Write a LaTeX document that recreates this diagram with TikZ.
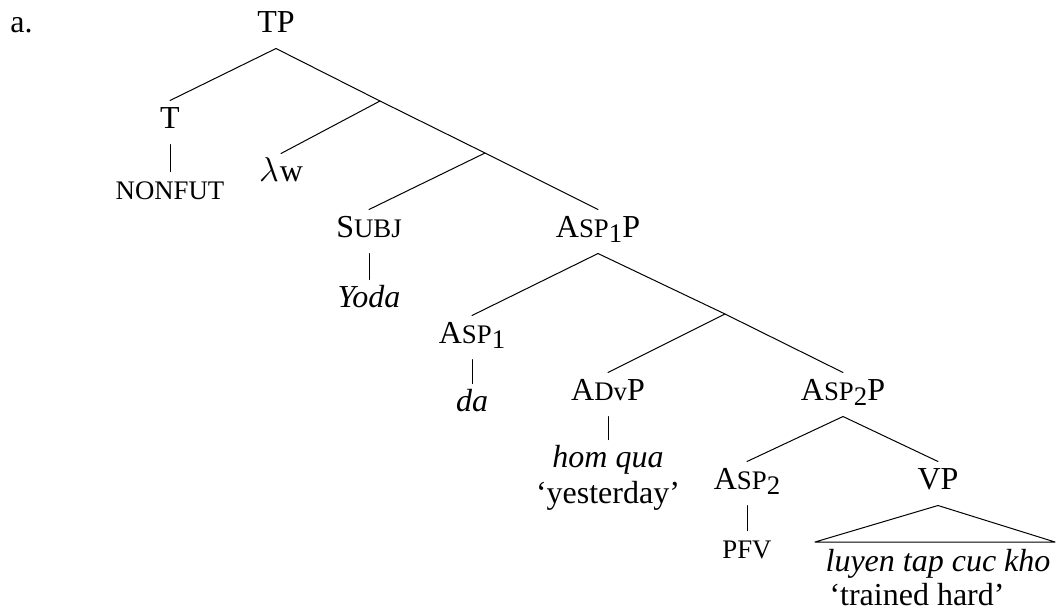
\documentclass[tikz,border=0pt]{standalone}
\usepackage{fontspec}
\setmainfont{Liberation Serif}
\newcommand\smc[1]{{\fontsize{13.4}{14}\selectfont #1}}
\newcommand\sub[1]{\raisebox{-2.5pt}{\smc{#1}}}
\begin{document}
\begin{tikzpicture}[x=.5pt,y=-.5pt, font=\fontsize{16}{19.2}\selectfont, line width=.5pt, line join=round, line cap=round,
	lab/.style={anchor=base, inner sep=0pt, text height=13.5pt, text depth=8pt}]
	\def\xmax{1057} \def\ymax{612} % khung
	\useasboundingbox (0,0) rectangle (\xmax,\ymax);
	\node[anchor=base west, inner sep=0pt] (ex) at (10,32) {a.};
	\node[lab] (tp) at (276,32) {TP};
	% các nút trung gian
	\coordinate (n1) at (380,101);
	\coordinate (n2) at (485,153);
	\coordinate (n3) at (725,314);
	\node[lab] (t) at (170,128) {T};
	\node[lab] (nonfut) at (170,199) {\smc{NONFUT}};
	\node[lab] (lw) at (281,181) {$\lambda$\kern.5pt w};
	\node[lab] (subj) at (369,237) {S\smc{UBJ}};
	\node[lab] (yoda) at (369,307) {\textit{Yoda}};
	\node[lab] (asp1p) at (598,237) {A\smc{SP}\sub{1}P};
	\node[lab] (asp1) at (472,343) {A\smc{SP}\sub{1}};
	\node[lab] (da) at (472,411) {\textit{da}};
	\node[lab] (advp) at (608,400) {A\smc{Dv}P};
	\node[lab] (homqua) at (608,467) {\textit{hom qua}};
	\node[lab] (gloss1) at (608,503) {`yesterday'};
	\node[lab] (asp2p) at (843,400) {A\smc{SP}\sub{2}P};
	\node[lab] (asp2) at (747,489) {A\smc{SP}\sub{2}};
	\node[lab] (pfv) at (747,558) {\smc{PFV}};
	\node[lab] (vp) at (938,489) {VP};
	\coordinate (trl) at (815,542);
	\coordinate (trr) at (1055,542);
	\node[lab] (luyen) at (938,571) {\textit{luyen tap cuc kho}};
	\node[anchor=base west, inner sep=0pt] (gloss2) at (829,605) {`trained hard'};
	% cạnh
	\draw (tp.south)--(t.north);
	\draw (tp.south)--(n1)--(lw.north);
	\draw (n1)--(n2)--(subj.north);
	\draw (n2)--(asp1p.north);
	\draw (t.south)--(nonfut.north);
	\draw (subj.south)--(yoda.north);
	\draw (asp1p.south)--(asp1.north);
	\draw (asp1p.south)--(n3)--(advp.north);
	\draw (n3)--(asp2p.north);
	\draw (asp1.south)--(da.north);
	\draw (advp.south)--(homqua.north);
	\draw (asp2p.south)--(asp2.north);
	\draw (asp2p.south)--(vp.north);
	\draw (asp2.south)--(pfv.north);
	\draw (vp.south)--(trl)--(trr)--cycle;
\end{tikzpicture}
\end{document}
